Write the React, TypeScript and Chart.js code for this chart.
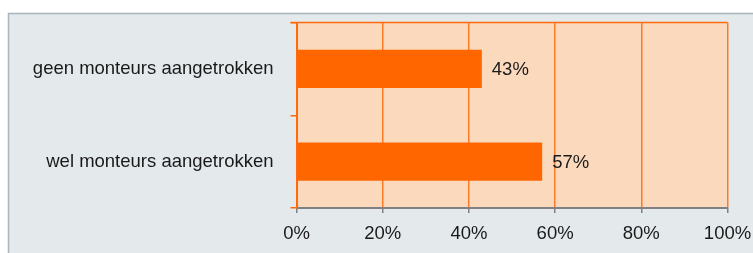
import React, { useEffect, useRef } from "react";
import { Chart, registerables } from "chart.js";

Chart.register(...registerables);

const categories = ["geen monteurs aangetrokken", "wel monteurs aangetrokken"];
const values = [43, 57];
const xTicks = [0, 20, 40, 60, 80, 100];

const FONT = "'Liberation Sans', Arial, Helvetica, sans-serif";

const panelPlugin = {
  id: "panel",
  beforeDraw(chart: any) {
    const { ctx, width, height, chartArea } = chart;
    ctx.save();
    ctx.fillStyle = "#ffffff";
    ctx.fillRect(0, 0, width, height);
    ctx.fillStyle = "#e4e9ec";
    ctx.fillRect(8, 13, width, height);
    ctx.strokeStyle = "#a9b5bd";
    ctx.lineWidth = 1.5;
    ctx.beginPath();
    ctx.moveTo(8.5, height + 5);
    ctx.lineTo(8.5, 13.5);
    ctx.lineTo(width + 5, 13.5);
    ctx.stroke();
    ctx.fillStyle = "#fbd9bd";
    ctx.fillRect(chartArea.left, chartArea.top, chartArea.right - chartArea.left, chartArea.bottom - chartArea.top);
    ctx.restore();
  },
  afterDraw(chart: any) {
    const { ctx, chartArea } = chart;
    ctx.save();
    ctx.strokeStyle = "#ff6a0d";
    ctx.lineWidth = 1.5;
    ctx.beginPath();
    ctx.moveTo(chartArea.left - 6, chartArea.top);
    ctx.lineTo(chartArea.right, chartArea.top);
    ctx.stroke();
    ctx.restore();
  },
};

const labelPlugin = {
  id: "valueLabels",
  afterDatasetsDraw(chart: any) {
    const { ctx } = chart;
    const meta = chart.getDatasetMeta(0);
    ctx.save();
    ctx.fillStyle = "#1a1a1a";
    ctx.font = `18.5px ${FONT}`;
    ctx.textAlign = "left";
    ctx.textBaseline = "middle";
    meta.data.forEach((bar: any, i: number) => {
      ctx.fillText(values[i] + "%", bar.x + 10, bar.y + 1);
    });
    ctx.restore();
  },
};

export default function App() {
  const ref = useRef<HTMLCanvasElement>(null);
  useEffect(() => {
    if (!ref.current) return;
    const chart = new Chart(ref.current, {
      type: "bar",
      data: {
        labels: categories,
        datasets: [
          {
            data: values,
            backgroundColor: "#ff6600",
            borderWidth: 0,
            barPercentage: 0.41,
            categoryPercentage: 1,
          },
        ],
      },
      options: {
        indexAxis: "y",
        animation: false,
        responsive: false,
        devicePixelRatio: 1,
        layout: { autoPadding: false, padding: { left: 0, right: 25.5, top: 22.5, bottom: 0 } },
        plugins: { legend: { display: false }, tooltip: { enabled: false } },
        scales: {
          x: {
            min: 0,
            max: 100,
            afterBuildTicks(scale: any) {
              scale.ticks = xTicks.map((v) => ({ value: v }));
            },
            afterFit(scale: any) {
              scale.height = 45;
              scale.paddingLeft = 0;
              scale.paddingRight = 0;
              scale.paddingTop = 0;
              scale.paddingBottom = 0;
            },
            ticks: {
              color: "#1a1a1a",
              font: { size: 18.5, family: FONT },
              padding: 10,
              callback: (v: any) => v + "%",
              maxRotation: 0,
            },
            grid: {
              color: "#ff7a26",
              lineWidth: 1.5,
              tickColor: "#808080",
              tickLength: 5,
            },
            border: { color: "#808080", width: 2 },
          },
          y: {
            afterFit(scale: any) {
              scale.width = 296.5;
              scale.paddingLeft = 0;
              scale.paddingRight = 0;
              scale.paddingTop = 0;
              scale.paddingBottom = 0;
            },
            ticks: {
              color: "#1a1a1a",
              font: { size: 18.5, family: FONT },
              padding: 17,
            },
            grid: {
              offset: true,
              drawOnChartArea: false,
              color: "#ff6a0d",
              tickLength: 6,
              lineWidth: 1.5,
            },
            border: { color: "#ff6a0d", width: 2 },
          },
        },
      },
      plugins: [panelPlugin, labelPlugin],
    });
    return () => chart.destroy();
  }, []);
  return (
    <div style={{ position: "fixed", left: 0, top: 0, width: 753, height: 253 }}>
      <canvas ref={ref} width={753} height={253} style={{ display: "block" }} />
    </div>
  );
}
